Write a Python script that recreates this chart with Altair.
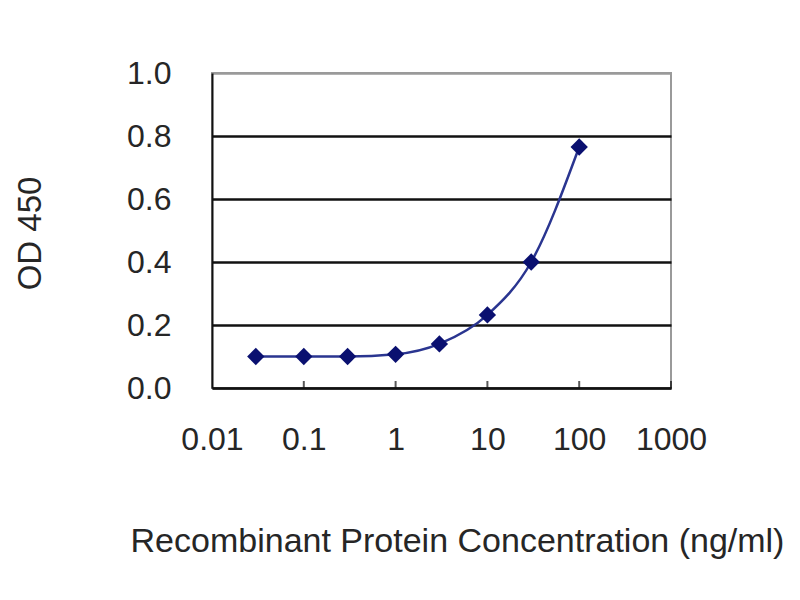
import altair as alt
import pandas as pd

conc = [0.03, 0.1, 0.3, 1, 3, 10, 30, 100]
od450 = [0.100, 0.100, 0.100, 0.107, 0.140, 0.232, 0.400, 0.765]
x_ticks = [0.01, 0.1, 1, 10, 100, 1000]
y_ticks = [0.0, 0.2, 0.4, 0.6, 0.8, 1.0]

df = pd.DataFrame({"conc": conc, "od": od450})
ticks_df = pd.DataFrame({"t": x_ticks[1:]})

FONT = "Liberation Sans"
W, H = 459, 315

x_scale = alt.Scale(type="log", domain=[0.01, 1000])
y_scale = alt.Scale(domain=[0, 1])

x_axis = alt.Axis(
    values=x_ticks, format="~g", title="Recombinant Protein Concentration (ng/ml)",
    grid=False, ticks=False, labelPadding=36, labelFontSize=32, labelFont=FONT,
    labelColor="#262626", domainColor="#111", domainWidth=2,
    titleFont=FONT, titleFontSize=34, titleFontWeight="normal", titleColor="#262626",
    titleX=245, titleY=153, titleBaseline="middle", titleAnchor="middle",
    labelFlush=False,
)
y_axis = alt.Axis(
    values=y_ticks, format=".1f", title="OD 450",
    grid=True,
    gridColor={"condition": {"test": "datum.value >= 1", "value": "#9a9a9a"}, "value": "#111"},
    gridWidth=2.5,
    ticks=False, labelPadding=41, labelFontSize=32, labelFont=FONT,
    labelColor="#262626", domainColor="#111", domainWidth=2,
    titleFont=FONT, titleFontSize=33, titleFontWeight="normal", titleColor="#262626",
    titleX=-182, titleY=160, titleBaseline="middle", titleAngle=270,
)

base = alt.Chart(df)

line = base.mark_line(color="#2a3590", strokeWidth=2.5, interpolate="monotone").encode(
    x=alt.X("conc:Q", scale=x_scale, axis=x_axis),
    y=alt.Y("od:Q", scale=y_scale, axis=y_axis),
)
points = base.mark_point(shape="diamond", filled=True, size=300, color="#0a1070", opacity=1).encode(
    x=alt.X("conc:Q", scale=x_scale),
    y=alt.Y("od:Q", scale=y_scale),
)
inner_ticks = alt.Chart(ticks_df).mark_tick(color="#111", thickness=2, size=7, orient="vertical").encode(
    x=alt.X("t:Q", scale=x_scale),
    y=alt.value(H - 3.5),
)

chart = alt.layer(line, inner_ticks, points).properties(
    width=W, height=H,
    autosize=alt.AutoSizeParams(type="none"),
    padding={"left": 204, "top": 65, "right": 115, "bottom": 190},
    background="white",
).configure_view(stroke="#9a9a9a", strokeWidth=2)

chart.save("out.html", embed_options={"renderer": "svg", "actions": False})
